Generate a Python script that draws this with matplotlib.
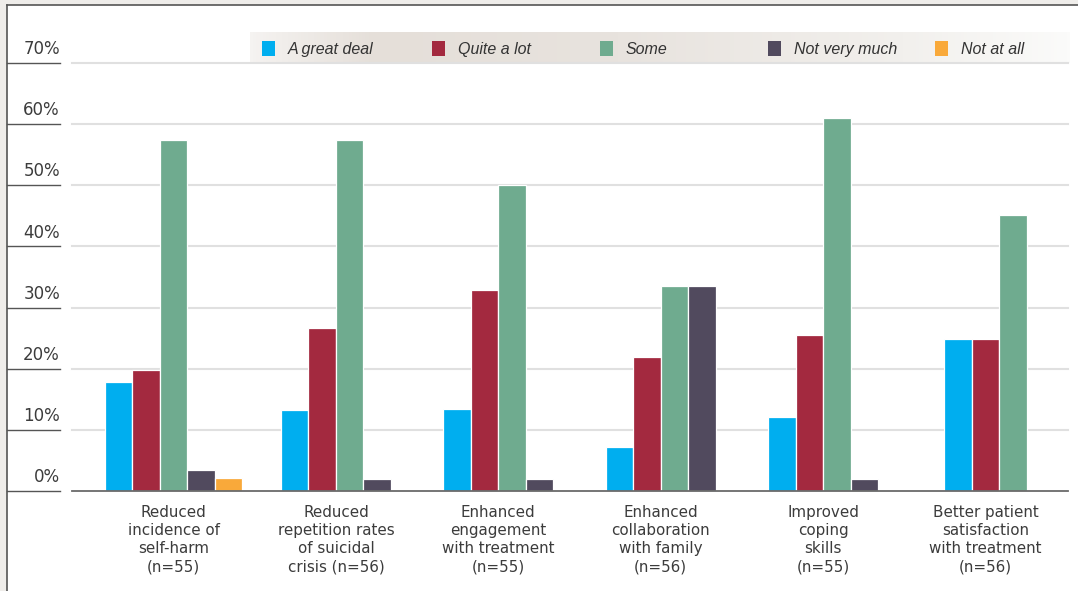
import numpy as np
import matplotlib
matplotlib.use("Agg")
import matplotlib.pyplot as plt
from matplotlib.patches import Rectangle
from matplotlib.colors import LinearSegmentedColormap
import matplotlib.transforms as mtransforms

categories = ["Reduced\nincidence of\nself-harm\n(n=55)",
              "Reduced\nrepetition rates\nof suicidal\ncrisis (n=56)",
              "Enhanced\nengagement\nwith treatment\n(n=55)",
              "Enhanced\ncollaboration\nwith family\n(n=56)",
              "Improved\ncoping\nskills\n(n=55)",
              "Better patient\nsatisfaction\nwith treatment\n(n=56)"]
series_names = ["A great deal", "Quite a lot", "Some", "Not very much", "Not at all"]
great_deal = [17.8, 13.3, 13.4, 7.2, 12.1, 24.9]
quite_a_lot = [19.8, 26.7, 32.9, 21.9, 25.5, 24.9]
some = [57.4, 57.4, 50.0, 33.5, 61.0, 45.2]
not_very_much = [3.5, 2.0, 2.0, 33.5, 2.0, None]
not_at_all = [2.1, None, None, None, None, None]
yticks = [0, 10, 20, 30, 40, 50, 60, 70]
ytick_labels = ["0%", "10%", "20%", "30%", "40%", "50%", "60%", "70%"]

colors = ["#00aeef", "#a3293f", "#6fab8f", "#514a5e", "#f9a93a"]
series = [great_deal, quite_a_lot, some, not_very_much, not_at_all]

W, H = 1078, 591
fig = plt.figure(figsize=(W / 100, H / 100), dpi=100)
fig.patch.set_facecolor("white")
# outer grey strips and frame
fig.patches.append(Rectangle((0, 0), 7 / W, 1, transform=fig.transFigure,
                             facecolor="#efedea", edgecolor="none", zorder=-10))
fig.patches.append(Rectangle((0, 1 - 5 / H), 1, 5 / H, transform=fig.transFigure,
                             facecolor="#efedea", edgecolor="none", zorder=-10))
fig.lines.append(plt.Line2D([7 / W, 7 / W], [0, 1 - 5 / H], transform=fig.transFigure,
                            color="#555555", lw=1.2, zorder=-9))
fig.lines.append(plt.Line2D([7 / W, 1], [1 - 5 / H, 1 - 5 / H], transform=fig.transFigure,
                            color="#555555", lw=1.2, zorder=-9))

# legend gradient band
bx0, bx1, by0, by1 = 250, 1070, 32, 63
bax = fig.add_axes([bx0 / W, 1 - by1 / H, (bx1 - bx0) / W, (by1 - by0) / H])
bax.set_zorder(1)
cmap = LinearSegmentedColormap.from_list("band", [(0, "#f5f3f1"), (0.15, "#e5dfd9"),
                                                   (0.45, "#e8e3de"), (0.8, "#f2f0ed"),
                                                   (1.0, "#fbfbfa")])
bax.imshow(np.linspace(0, 1, 256)[None, :], aspect="auto", cmap=cmap, extent=[0, 1, 0, 1])
bax.set_axis_off()

ax = fig.add_axes([72 / W, 1 - 491 / H, (1068 - 72) / W, (491 - 63) / H])
ax.set_zorder(2)
ax.set_facecolor("none")
w = 0.169
n_groups = len(categories)
for g in range(n_groups):
    valid = [s for s in range(len(series)) if series[s][g] is not None]
    k = len(valid)
    for j, s in enumerate(valid):
        x = g + (j - (k - 1) / 2) * w
        ax.bar(x, series[s][g], width=w, color=colors[s], edgecolor="white",
               linewidth=0.9, zorder=3)

ax.set_xlim(-0.625, 5.508)
ax.set_ylim(0, 70)
for sp in ax.spines.values():
    sp.set_visible(False)
ax.set_yticks(yticks)
ax.set_yticklabels([])
ax.tick_params(axis="both", length=0)
ax.set_xticks(range(n_groups))
ax.set_xticklabels(categories, fontsize=10.9, color="#3c3c3c", linespacing=1.27,
                   family="DejaVu Sans")
ax.tick_params(axis="x", pad=10)
for t in yticks[1:]:
    ax.axhline(t, color="#e0e0e0", lw=1.5, zorder=1, clip_on=False)
ax.axhline(0, color="#6a6a6a", lw=1.3, zorder=4, clip_on=False)

trans = mtransforms.blended_transform_factory(fig.transFigure, ax.transData)
for t, lab in zip(yticks, ytick_labels):
    ax.plot([7 / W, 60 / W], [t, t], transform=trans, color="#555555", lw=1.0,
            clip_on=False)
    ax.text(60 / W, t + 0.8, lab, transform=trans, ha="right", va="bottom",
            fontsize=12, color="#3c3c3c", family="DejaVu Sans")

# legend
leg_x = [262, 432, 600, 768, 935]
for name, c, lx in zip(series_names, colors, leg_x):
    fig.patches.append(Rectangle((lx / W, 1 - 56 / H), 13 / W, 15 / H,
                                 transform=fig.transFigure, facecolor=c,
                                 edgecolor="none", zorder=5))
    fig.text((lx + 26) / W, 1 - 54 / H, name, ha="left", va="baseline", fontsize=11.5,
             style="italic", color="#333333", family="Liberation Sans", zorder=6)

fig.savefig("out.png", dpi=100, facecolor=fig.get_facecolor())
